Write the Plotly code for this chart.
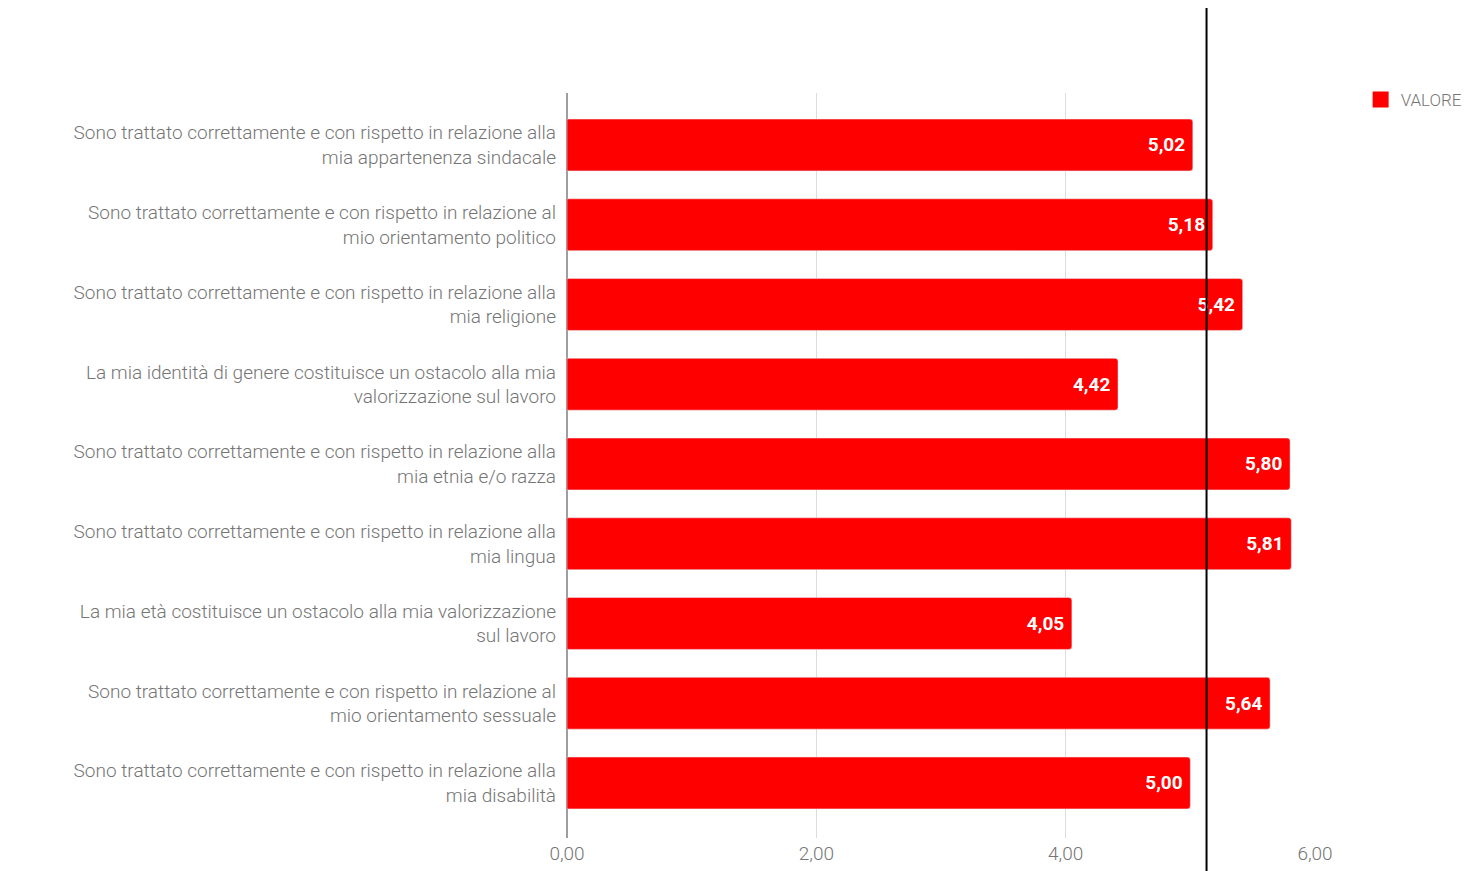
import plotly.graph_objects as go

categories = [
    "Sono trattato correttamente e con rispetto in relazione alla<br>mia appartenenza sindacale",
    "Sono trattato correttamente e con rispetto in relazione al<br>mio orientamento politico",
    "Sono trattato correttamente e con rispetto in relazione alla<br>mia religione",
    "La mia identità di genere costituisce un ostacolo alla mia<br>valorizzazione sul lavoro",
    "Sono trattato correttamente e con rispetto in relazione alla<br>mia etnia e/o razza",
    "Sono trattato correttamente e con rispetto in relazione alla<br>mia lingua",
    "La mia età costituisce un ostacolo alla mia valorizzazione<br>sul lavoro",
    "Sono trattato correttamente e con rispetto in relazione al<br>mio orientamento sessuale",
    "Sono trattato correttamente e con rispetto in relazione alla<br>mia disabilità",
]
values = [5.02, 5.18, 5.42, 4.42, 5.80, 5.81, 4.05, 5.64, 5.00]
series_name = "VALORE"
x_ticks = [0, 2, 4, 6]
reference_line = 5.13

RED = "#ff0000"
GREY = "#757575"

fig = go.Figure()
fig.add_trace(go.Bar(
    y=categories,
    x=values,
    orientation="h",
    name=series_name,
    marker=dict(color=RED, cornerradius=3),
    texttemplate="<b>%{x:.2f}</b>\u00a0",
    textposition="inside",
    insidetextanchor="end",
    textfont=dict(color="white", size=19, family="Roboto"),
    showlegend=False,
))
# legend entry with a larger square swatch
fig.add_trace(go.Scatter(
    x=[None], y=[None], mode="markers", name=series_name,
    marker=dict(symbol="square", color=RED, size=18),
    showlegend=True, hoverinfo="skip",
))

fig.add_shape(
    type="line", xref="x", yref="paper",
    x0=reference_line, x1=reference_line, y0=-0.05, y1=1.114,
    line=dict(color="black", width=2),
)

fig.update_layout(
    width=1465, height=863,
    margin=dict(l=559, r=158, t=85, b=33, autoexpand=False),
    paper_bgcolor="white", plot_bgcolor="white",
    separators=",.",
    bargap=0.35,
    font=dict(family="Roboto", color=GREY, size=19),
    legend=dict(x=1.061, y=1.015, xanchor="left", yanchor="top",
                font=dict(size=17, color=GREY, weight=300),
                itemsizing="trace"),
    xaxis=dict(
        range=[0, 6], tickvals=x_ticks, tickformat=".2f",
        showgrid=True, gridcolor="#dcdcdc", gridwidth=1,
        zeroline=True, zerolinecolor="#9e9e9e", zerolinewidth=2,
        tickfont=dict(size=19, color=GREY, weight=300),
        ticks="", ticklabelstandoff=2,
    ),
    yaxis=dict(
        type="category",
        range=[8.69, -0.652],
        ticks="", ticklabelstandoff=10,
        tickfont=dict(size=19, color=GREY, weight=300),
        showgrid=False,
    ),
)

fig.write_html("out.html")
